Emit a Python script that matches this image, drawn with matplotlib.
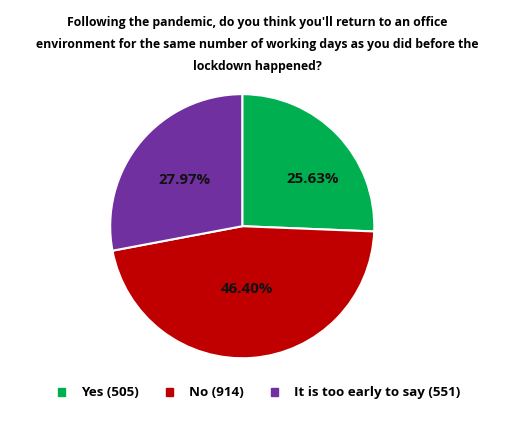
import matplotlib
matplotlib.use("Agg")
import matplotlib.pyplot as plt
import numpy as np

labels = ["Yes (505)", "No (914)", "It is too early to say (551)"]
counts = [505, 914, 551]
pct_labels = ["25.63%", "46.40%", "27.97%"]
colors = ["#00B050", "#C00000", "#7030A0"]

plt.rcParams['font.family'] = ['Open Sans', 'DejaVu Sans']

fig = plt.figure(figsize=(5.1, 4.26), dpi=100)
fig.patch.set_facecolor("white")

title = ("Following the pandemic, do you think you'll return to an office\n"
         "environment for the same number of working days as you did before the\n"
         "lockdown happened?")
fig.text(0.504, 0.963, title, ha="center", va="top", fontsize=8.8,
         fontweight="bold", linespacing=1.9)

ax = fig.add_axes([0.475 - 0.259, 0.469 - 0.31, 0.518, 0.62])
wedges, texts = ax.pie(counts, colors=colors, startangle=90, counterclock=False,
                       wedgeprops=dict(edgecolor="white", linewidth=1.5))
ax.set_xlim(-1, 1)
ax.set_ylim(-1, 1)
ax.set_aspect("equal")

# percent labels placed on the wedges (radius, angle nudge in degrees)
label_pos = [(0.64, -10), (0.48, 0), (0.56, 1)]
for w, txt, (r, nudge) in zip(wedges, pct_labels, label_pos):
    ang = np.deg2rad((w.theta1 + w.theta2) / 2 + nudge)
    ax.text(r * np.cos(ang), r * np.sin(ang), txt, ha="center", va="center",
            fontsize=10.8, fontweight="bold", color="#111111")

handles = [plt.Rectangle((0, 0), 1, 1, color=c) for c in colors]
fig.legend(handles, labels, loc="center", bbox_to_anchor=(0.508, 0.078), ncol=3,
           frameon=False, handlelength=0.55, handleheight=0.55, columnspacing=2.0,
           handletextpad=1.2, prop=dict(weight="bold", size=9.6))

fig.savefig("out.png", dpi=100)
